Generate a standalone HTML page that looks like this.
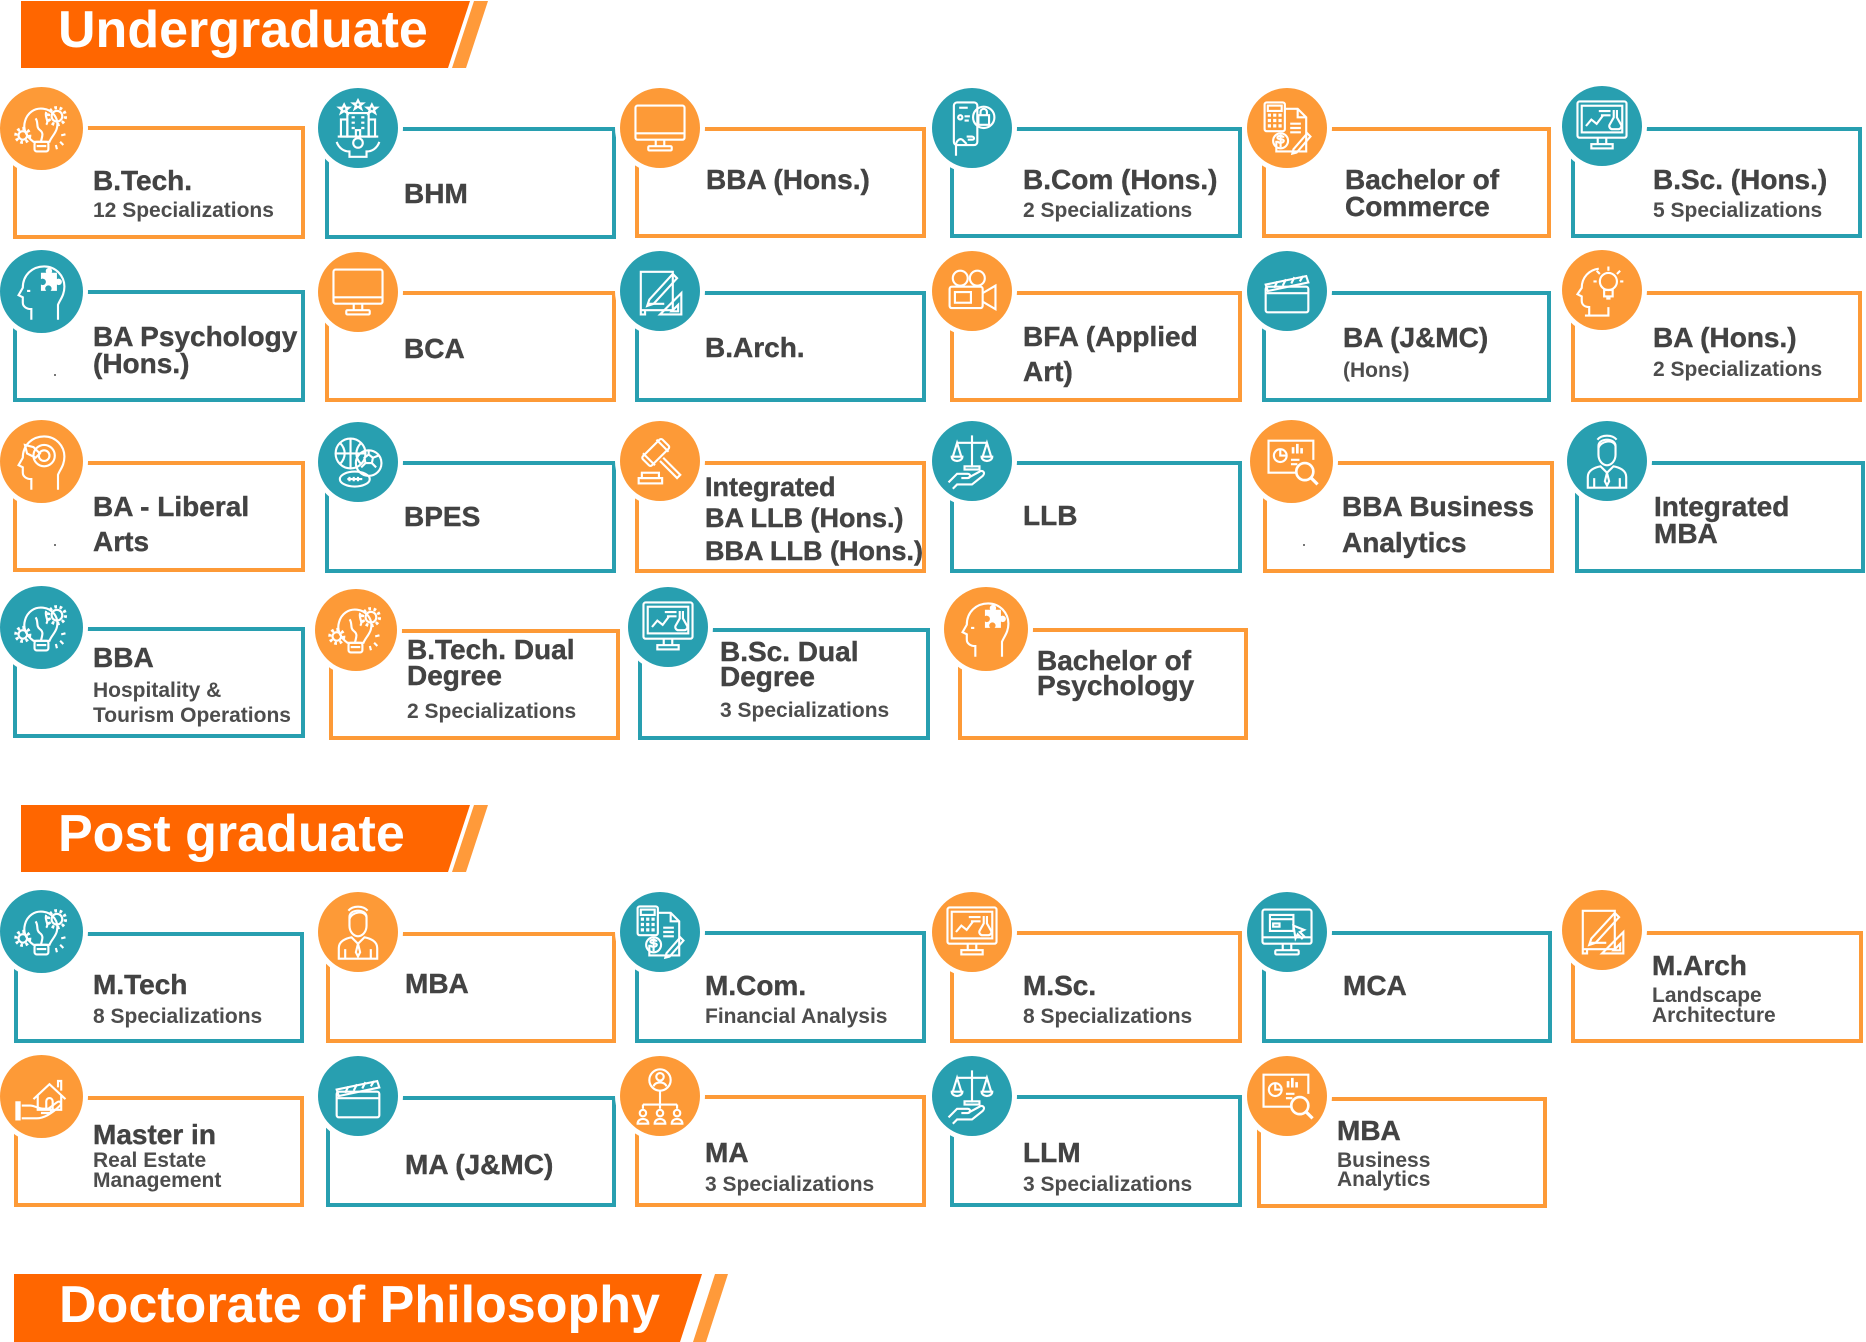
<!DOCTYPE html>
<html><head><meta charset="utf-8">
<style>
html,body{margin:0;padding:0;background:#fff}
body{width:1866px;height:1342px;position:relative;overflow:hidden;font-family:"Liberation Sans",Arial,sans-serif}
.b{position:absolute;box-sizing:border-box;border:4px solid}
.o{border-color:#FD9A37}
.c{border-color:#289FB0}
.ci{position:absolute;border-radius:50%;box-shadow:0 0 0 5px #fff;width:80px;height:80px}
.ci.L{width:83px;height:83px}
.co{background:#FD9A37}
.cc{background:#289FB0}
.ci svg{position:absolute;left:50%;top:50%;width:64px;height:64px;margin:-32px 0 0 -32px}
.t{position:absolute;white-space:nowrap;line-height:1;font-weight:bold;color:#434343;font-size:28px;-webkit-text-stroke:0.4px #434343}
.t27{font-size:27px}
.s{position:absolute;white-space:nowrap;line-height:1;font-weight:bold;color:#4d4d4d;font-size:21px}
.hd{position:absolute;white-space:nowrap;line-height:1;font-weight:bold;color:#fff;font-size:52px}
.dot{position:absolute;width:2px;height:2px;background:#777}
</style></head><body>
<svg width="0" height="0" style="position:absolute">
<defs>
<symbol id="mon" viewBox="0 0 60 60"><g fill="none" stroke="#fff" stroke-width="2"><rect x="7" y="9" width="46" height="32" rx="2"/><line x1="7" y1="35" x2="53" y2="35"/><path d="M26 41v6M34 41v6"/><rect x="19" y="47" width="22" height="4" rx="1"/></g></symbol>
<symbol id="bulb" viewBox="0 0 60 60"><g fill="none" stroke="#fff" stroke-width="2"><path d="M22 42c-7-5-10-12-8-19 2-8 9-13 17-12 9 1 15 9 13 18-1 5-5 8-7 13z"/><rect x="23" y="42" width="13" height="9" rx="2"/><line x1="25" y1="46" x2="34" y2="46"/><circle cx="44" cy="18" r="5"/><circle cx="44" cy="18" r="8" stroke-width="3" stroke-dasharray="2.5 2.5"/><circle cx="12" cy="36" r="4"/><circle cx="12" cy="36" r="6.5" stroke-width="3" stroke-dasharray="2.5 2.5"/><path d="M24 20c3 4 0 8 4 11s2 6 1 11M34 14c-2 5 3 8 0 12"/><path d="M48 36l4-1M47 42l3 3M43 45l1 4"/></g></symbol>
<symbol id="bld" viewBox="0 0 60 60"><g fill="none" stroke="#fff" stroke-width="2"><rect x="20" y="16" width="20" height="22"/><rect x="14" y="22" width="6" height="16"/><rect x="40" y="22" width="6" height="16"/><path d="M24 20h3M33 20h3M24 25h3M33 25h3M24 30h3M33 30h3"/><rect x="28" y="32" width="4" height="6"/><line x1="11" y1="38" x2="49" y2="38"/><path d="M17 8l1.5 3h3l-2.5 2 1 3-3-2-3 2 1-3-2.5-2h3zM30 4l1.5 3h3l-2.5 2 1 3-3-2-3 2 1-3-2.5-2h3zM43 8l1.5 3h3l-2.5 2 1 3-3-2-3 2 1-3-2.5-2h3z"/><circle cx="30" cy="44" r="4.5"/><path d="M10 43c2 6 7 9 12 9v5h16v-5c5 0 10-3 12-9"/></g></symbol>
<symbol id="phone" viewBox="0 0 60 60"><g fill="none" stroke="#fff" stroke-width="2"><rect x="13" y="6" width="22" height="40" rx="3"/><line x1="18" y1="11" x2="26" y2="11"/><circle cx="41" cy="20" r="10"/><path d="M36 18h10v9h-10zM38 18v-3a3 3 0 0 1 6 0v3"/><circle cx="19" cy="20" r="2"/><path d="M23 19h5M23 23h4"/><path d="M15 56v-10c0-3 3-7 6-5l4 4M25 38h5c2 0 3 3 0 3h-4"/></g></symbol>
<symbol id="calc" viewBox="0 0 60 60"><g fill="none" stroke="#fff" stroke-width="2"><rect x="9" y="6" width="19" height="27" rx="2"/><rect x="12" y="9" width="13" height="5"/><path d="M12 18h3M17 18h3M22 18h3M12 23h3M17 23h3M22 23h3M12 28h3M17 28h3M22 28h3" stroke-width="3"/><path d="M28 12h12l8 8v32h-28v-10"/><path d="M40 12v8h8"/><path d="M33 26h10M33 30h10M33 34h10"/><circle cx="24" cy="42" r="7"/><path d="M27 39c-1-2-6-2-6 0s6 1 6 3-5 3-6 0M24 36v12"/><path d="M36 50l13-15 3 3-13 15-4 1z"/></g></symbol>
<symbol id="sci" viewBox="0 0 60 60"><g fill="none" stroke="#fff" stroke-width="2"><rect x="7" y="7" width="46" height="34" rx="2"/><rect x="11" y="11" width="38" height="25"/><path d="M26 41v6M34 41v6"/><rect x="20" y="47" width="20" height="4"/><polyline points="15,30 20,24 25,28 31,20"/><path d="M27 16h11M29 20h9"/><path d="M41 15v7l-4 7a3 3 0 0 0 3 4h5a3 3 0 0 0 3-4l-4-7v-7"/></g></symbol>
<symbol id="headp" viewBox="0 0 60 60"><g fill="none" stroke="#fff" stroke-width="2"><path d="M20 56v-10c-4 0-8-2-8-6v-5l-4-2 4-7c0-12 9-20 20-20 11 0 19 9 19 19 0 8-4 12-6 17v14"/><path d="M16 29h3"/></g><path fill="#fff" d="M29 12h5a3 3 0 1 1 5 0h5v6a3 3 0 1 1 0 5v6h-6a3 3 0 1 0-4 0h-5v-6a3 3 0 1 0 0-5z"/></symbol>
<symbol id="bp" viewBox="0 0 60 60"><g fill="none" stroke="#fff" stroke-width="2"><path d="M12 12h30v36h-30zM12 12v40h4v-4"/><path d="M20 38l22-24 4 4-22 24-6 2z"/><path d="M18 42h16"/><path d="M30 52l20-20v20z"/><path d="M41 49l6-6v6z"/></g></symbol>
<symbol id="cam" viewBox="0 0 60 60"><g fill="none" stroke="#fff" stroke-width="2"><circle cx="19" cy="18" r="7"/><circle cx="35" cy="18" r="7"/><rect x="9" y="26" width="31" height="20" rx="2"/><rect x="14" y="31" width="15" height="10"/><path d="M40 32l12-7v22l-12-7"/></g></symbol>
<symbol id="clap" viewBox="0 0 60 60"><g fill="none" stroke="#fff" stroke-width="2"><rect x="10" y="26" width="40" height="24" rx="2"/><line x1="10" y1="32" x2="50" y2="32"/><path d="M10 24l38-8 2 6-38 8z"/><path d="M18 27l3-6M26 25l3-6M34 23l3-6M42 21l3-5"/></g></symbol>
<symbol id="headb" viewBox="0 0 60 60"><g fill="none" stroke="#fff" stroke-width="2"><path d="M18 54v-8c-4 0-7-2-7-6v-4l-4-2 4-6c0-10 7-17 16-18"/><path d="M14 54h22v-8"/><circle cx="36" cy="22" r="8"/><rect x="32" y="30" width="8" height="6"/><path d="M34 38h4M36 8v4M25 12l3 3M47 12l-3 3M22 22h3M47 22h3"/></g></symbol>
<symbol id="headt" viewBox="0 0 60 60"><g fill="none" stroke="#fff" stroke-width="2"><path d="M20 56v-10c-4 0-8-2-8-6v-5l-4-2 4-7c0-12 9-20 20-20 11 0 19 9 19 19 0 8-4 12-6 17v14"/><circle cx="32" cy="24" r="10"/><circle cx="32" cy="24" r="5"/><path d="M14 14l8 2 6 6-4 4-8-4z"/></g></symbol>
<symbol id="balls" viewBox="0 0 60 60"><g fill="none" stroke="#fff" stroke-width="2"><circle cx="23" cy="22" r="14"/><path d="M9 22h28M23 8v28M13 12c6 6 6 14 0 20M33 12c-6 6-6 14 0 20"/><circle cx="40" cy="31" r="12"/><path d="M36 26l4-3 4 3-1 5h-6zM40 23v-4M44 26l5-2M43 31l4 4M37 31l-4 4"/><ellipse cx="27" cy="46" rx="14" ry="7"/><path d="M20 46h14M22 44v4M26 44v4M30 44v4"/></g></symbol>
<symbol id="gav" viewBox="0 0 60 60"><g fill="none" stroke="#fff" stroke-width="2"><g transform="rotate(-45 26 22)"><rect x="13" y="16" width="26" height="12" rx="2"/><path d="M17 14v16M35 14v16"/></g><path d="M30 30l16 16 3-3-16-16"/><rect x="10" y="46" width="22" height="5"/><rect x="13" y="41" width="16" height="5"/></g></symbol>
<symbol id="scale" viewBox="0 0 60 60"><g fill="none" stroke="#fff" stroke-width="2"><path d="M30 6v30M16 13h28"/><path d="M12 26l4-13 4 13M40 26l4-13 4 13"/><path d="M11 26a5 4 0 0 0 10 0zM39 26a5 4 0 0 0 10 0z"/><rect x="23" y="35" width="14" height="3"/><path d="M8 50l8-8h10c3 0 3 4 0 4h-6M26 46l11-6c3-2 6 1 3 4l-10 8h-14l-4 4"/></g></symbol>
<symbol id="chart" viewBox="0 0 60 60"><g fill="none" stroke="#fff" stroke-width="2"><path d="M34 40h-26v-30h42v18"/><circle cx="19" cy="24" r="6"/><path d="M19 18v6h6"/><path d="M31 22v-6M35 22v-9M39 22v-5" stroke-width="2.5"/><path d="M29 28h8M29 32h6"/><circle cx="42" cy="39" r="8" stroke-width="2.5"/><path d="M48 45l6 6" stroke-width="3"/></g></symbol>
<symbol id="man" viewBox="0 0 60 60"><g fill="none" stroke="#fff" stroke-width="2"><path d="M22 16c0-8 16-8 16 0v8c0 6-4 10-8 10s-8-4-8-10z"/><path d="M22 18c2-7 14-9 16-2M21 10c4-5 14-5 18 0"/><path d="M12 55v-10c0-6 6-9 12-10l6 6 6-6c6 1 12 4 12 10v10z"/><path d="M30 41l-2 8 2 4 2-4z"/><path d="M18 46v9M42 46v9"/></g></symbol>
<symbol id="house" viewBox="0 0 60 60"><g fill="none" stroke="#fff" stroke-width="2"><path d="M22 32l15-14 15 14M26 28v14h22v-14"/><path d="M34 42v-8a3 3 0 0 1 6 0v8"/><path d="M45 21v-6h3v9"/></g><rect x="5" y="34" width="5" height="18" fill="#fff"/><g fill="none" stroke="#fff" stroke-width="2"><path d="M11 38h8c4 0 8 3 12 3h6c2 0 2 4 0 4h-8M11 50h14c6 0 14-4 22-12 2-2 0-5-3-3l-8 6"/></g></symbol>
<symbol id="ppl" viewBox="0 0 60 60"><g fill="none" stroke="#fff" stroke-width="2"><circle cx="30" cy="15" r="10"/><circle cx="30" cy="12" r="3.5"/><path d="M24 21c1-5 11-5 12 0"/><path d="M30 25v11M14 38h32M14 38v4M30 36v6M46 38v4"/><circle cx="14" cy="46" r="3"/><path d="M9 56c0-6 10-6 10 0z"/><circle cx="30" cy="46" r="3"/><path d="M25 56c0-6 10-6 10 0z"/><circle cx="46" cy="46" r="3"/><path d="M41 56c0-6 10-6 10 0z"/></g></symbol>
<symbol id="monc" viewBox="0 0 60 60"><g fill="none" stroke="#fff" stroke-width="2"><rect x="7" y="9" width="46" height="32" rx="2"/><line x1="7" y1="35" x2="53" y2="35"/><path d="M26 41v6M34 41v6"/><rect x="19" y="47" width="22" height="4" rx="1"/><rect x="14" y="14" width="22" height="15"/><line x1="14" y1="18" x2="36" y2="18"/><rect x="17" y="22" width="6" height="3"/><path d="M36 24l10 4-4 2 4 4-2 2-4-4-2 4z"/></g></symbol>
</defs></svg>

<!-- header bands -->
<svg style="position:absolute;left:0;top:0" width="1866" height="1342">
<polygon points="21,1 470,1 448,68 21,68" fill="#FF6600"/>
<polygon points="474,1 488,1 466,68 452,68" fill="#FF9A3A"/>
<polygon points="21,805 470,805 448,872 21,872" fill="#FF6600"/>
<polygon points="474,805 488,805 466,872 452,872" fill="#FF9A3A"/>
<polygon points="14,1274 702,1274 680,1342 14,1342" fill="#FF6600"/>
<polygon points="715,1274 728,1274 706,1342 693,1342" fill="#FF9A3A"/>
</svg>
<div class="hd" style="left:58px;top:4px">Undergraduate</div>
<div class="hd" style="left:58px;top:808px">Post graduate</div>
<div class="hd" style="left:59px;top:1279px">Doctorate of Philosophy</div>

<!-- UG row 1 -->
<div class="b o" style="left:13px;top:126px;width:292px;height:113px"></div>
<div class="b c" style="left:325px;top:127px;width:291px;height:112px"></div>
<div class="b o" style="left:635px;top:127px;width:291px;height:111px"></div>
<div class="b c" style="left:950px;top:127px;width:292px;height:111px"></div>
<div class="b o" style="left:1262px;top:127px;width:289px;height:111px"></div>
<div class="b c" style="left:1571px;top:127px;width:291px;height:111px"></div>
<div class="ci L co" style="left:0px;top:87px"><svg><use href="#bulb"/></svg></div>
<div class="ci cc" style="left:318px;top:88px"><svg><use href="#bld"/></svg></div>
<div class="ci co" style="left:620px;top:88px"><svg><use href="#mon"/></svg></div>
<div class="ci cc" style="left:932px;top:88px"><svg><use href="#phone"/></svg></div>
<div class="ci co" style="left:1247px;top:88px"><svg><use href="#calc"/></svg></div>
<div class="ci cc" style="left:1562px;top:86px"><svg><use href="#sci"/></svg></div>
<div class="t" style="left:93px;top:167px">B.Tech.</div>
<div class="s" style="left:93px;top:200px">12 Specializations</div>
<div class="t" style="left:404px;top:180px">BHM</div>
<div class="t" style="left:706px;top:166px">BBA (Hons.)</div>
<div class="t" style="left:1023px;top:166px">B.Com (Hons.)</div>
<div class="s" style="left:1023px;top:200px">2 Specializations</div>
<div class="t" style="left:1345px;top:166px">Bachelor of</div>
<div class="t" style="left:1345px;top:193px">Commerce</div>
<div class="t" style="left:1653px;top:166px">B.Sc. (Hons.)</div>
<div class="s" style="left:1653px;top:200px">5 Specializations</div>

<!-- UG row 2 -->
<div class="b c" style="left:13px;top:290px;width:292px;height:112px"></div>
<div class="b o" style="left:325px;top:291px;width:291px;height:111px"></div>
<div class="b c" style="left:635px;top:291px;width:291px;height:111px"></div>
<div class="b o" style="left:950px;top:291px;width:292px;height:111px"></div>
<div class="b c" style="left:1262px;top:291px;width:289px;height:111px"></div>
<div class="b o" style="left:1571px;top:291px;width:291px;height:111px"></div>
<div class="ci L cc" style="left:0px;top:250px"><svg><use href="#headp"/></svg></div>
<div class="ci co" style="left:318px;top:252px"><svg><use href="#mon"/></svg></div>
<div class="ci cc" style="left:620px;top:251px"><svg><use href="#bp"/></svg></div>
<div class="ci co" style="left:932px;top:251px"><svg><use href="#cam"/></svg></div>
<div class="ci cc" style="left:1247px;top:251px"><svg><use href="#clap"/></svg></div>
<div class="ci co" style="left:1562px;top:250px"><svg><use href="#headb"/></svg></div>
<div class="t" style="left:93px;top:323px">BA Psychology</div>
<div class="t" style="left:93px;top:350px">(Hons.)</div>
<div class="dot" style="left:54px;top:374px"></div>
<div class="t" style="left:404px;top:335px">BCA</div>
<div class="t" style="left:705px;top:334px">B.Arch.</div>
<div class="t" style="left:1023px;top:323px">BFA (Applied</div>
<div class="t" style="left:1023px;top:358px">Art)</div>
<div class="t" style="left:1343px;top:324px">BA (J&amp;MC)</div>
<div class="s" style="left:1343px;top:360px">(Hons)</div>
<div class="t" style="left:1653px;top:324px">BA (Hons.)</div>
<div class="s" style="left:1653px;top:359px">2 Specializations</div>

<!-- UG row 3 -->
<div class="b o" style="left:13px;top:461px;width:292px;height:111px"></div>
<div class="b c" style="left:325px;top:461px;width:291px;height:112px"></div>
<div class="b o" style="left:635px;top:461px;width:291px;height:112px"></div>
<div class="b c" style="left:950px;top:461px;width:292px;height:112px"></div>
<div class="b o" style="left:1263px;top:461px;width:291px;height:112px"></div>
<div class="b c" style="left:1575px;top:461px;width:290px;height:112px"></div>
<div class="ci L co" style="left:0px;top:420px"><svg><use href="#headt"/></svg></div>
<div class="ci cc" style="left:318px;top:422px"><svg><use href="#balls"/></svg></div>
<div class="ci co" style="left:620px;top:421px"><svg><use href="#gav"/></svg></div>
<div class="ci cc" style="left:932px;top:421px"><svg><use href="#scale"/></svg></div>
<div class="ci L co" style="left:1250px;top:420px"><svg><use href="#chart"/></svg></div>
<div class="ci cc" style="left:1567px;top:421px"><svg><use href="#man"/></svg></div>
<div class="t" style="left:93px;top:493px">BA - Liberal</div>
<div class="t" style="left:93px;top:528px">Arts</div>
<div class="dot" style="left:54px;top:544px"></div>
<div class="t" style="left:404px;top:503px">BPES</div>
<div class="t t27" style="left:705px;top:474px">Integrated</div>
<div class="t t27" style="left:705px;top:505px">BA LLB (Hons.)</div>
<div class="t t27" style="left:705px;top:538px">BBA LLB (Hons.)</div>
<div class="t" style="left:1023px;top:502px">LLB</div>
<div class="t" style="left:1342px;top:493px">BBA Business</div>
<div class="t" style="left:1342px;top:529px">Analytics</div>
<div class="dot" style="left:1303px;top:544px"></div>
<div class="t" style="left:1654px;top:493px">Integrated</div>
<div class="t" style="left:1654px;top:520px">MBA</div>

<!-- UG row 4 -->
<div class="b c" style="left:13px;top:627px;width:292px;height:111px"></div>
<div class="b o" style="left:329px;top:629px;width:291px;height:111px"></div>
<div class="b c" style="left:638px;top:628px;width:292px;height:112px"></div>
<div class="b o" style="left:958px;top:628px;width:290px;height:112px"></div>
<div class="ci L cc" style="left:0px;top:586px"><svg><use href="#bulb"/></svg></div>
<div class="ci co" style="left:315px;top:589px;width:82px;height:82px"><svg><use href="#bulb"/></svg></div>
<div class="ci cc" style="left:628px;top:587px"><svg><use href="#sci"/></svg></div>
<div class="ci co" style="left:944px;top:587px;width:84px;height:84px"><svg><use href="#headp"/></svg></div>
<div class="t" style="left:93px;top:644px">BBA</div>
<div class="s" style="left:93px;top:680px">Hospitality &amp;</div>
<div class="s" style="left:93px;top:705px">Tourism Operations</div>
<div class="t" style="left:407px;top:636px">B.Tech. Dual</div>
<div class="t" style="left:407px;top:662px">Degree</div>
<div class="s" style="left:407px;top:701px">2 Specializations</div>
<div class="t" style="left:720px;top:638px">B.Sc. Dual</div>
<div class="t" style="left:720px;top:663px">Degree</div>
<div class="s" style="left:720px;top:700px">3 Specializations</div>
<div class="t" style="left:1037px;top:647px">Bachelor of</div>
<div class="t" style="left:1037px;top:672px">Psychology</div>

<!-- PG row 1 -->
<div class="b c" style="left:14px;top:932px;width:290px;height:111px"></div>
<div class="b o" style="left:326px;top:932px;width:290px;height:111px"></div>
<div class="b c" style="left:635px;top:931px;width:291px;height:112px"></div>
<div class="b o" style="left:950px;top:931px;width:292px;height:112px"></div>
<div class="b c" style="left:1262px;top:931px;width:290px;height:112px"></div>
<div class="b o" style="left:1571px;top:931px;width:292px;height:112px"></div>
<div class="ci L cc" style="left:0px;top:890px"><svg><use href="#bulb"/></svg></div>
<div class="ci co" style="left:318px;top:892px"><svg><use href="#man"/></svg></div>
<div class="ci cc" style="left:620px;top:892px"><svg><use href="#calc"/></svg></div>
<div class="ci co" style="left:932px;top:892px"><svg><use href="#sci"/></svg></div>
<div class="ci cc" style="left:1247px;top:892px"><svg><use href="#monc"/></svg></div>
<div class="ci co" style="left:1562px;top:890px"><svg><use href="#bp"/></svg></div>
<div class="t" style="left:93px;top:971px">M.Tech</div>
<div class="s" style="left:93px;top:1006px">8 Specializations</div>
<div class="t" style="left:405px;top:970px">MBA</div>
<div class="t" style="left:705px;top:972px">M.Com.</div>
<div class="s" style="left:705px;top:1006px">Financial Analysis</div>
<div class="t" style="left:1023px;top:972px">M.Sc.</div>
<div class="s" style="left:1023px;top:1006px">8 Specializations</div>
<div class="t" style="left:1343px;top:972px">MCA</div>
<div class="t" style="left:1652px;top:952px">M.Arch</div>
<div class="s" style="left:1652px;top:985px">Landscape</div>
<div class="s" style="left:1652px;top:1005px">Architecture</div>

<!-- PG row 2 -->
<div class="b o" style="left:14px;top:1096px;width:290px;height:111px"></div>
<div class="b c" style="left:326px;top:1096px;width:290px;height:111px"></div>
<div class="b o" style="left:635px;top:1095px;width:291px;height:112px"></div>
<div class="b c" style="left:950px;top:1095px;width:292px;height:112px"></div>
<div class="b o" style="left:1257px;top:1097px;width:290px;height:111px"></div>
<div class="ci L co" style="left:0px;top:1055px"><svg><use href="#house"/></svg></div>
<div class="ci cc" style="left:318px;top:1056px"><svg><use href="#clap"/></svg></div>
<div class="ci co" style="left:620px;top:1056px"><svg><use href="#ppl"/></svg></div>
<div class="ci cc" style="left:932px;top:1056px"><svg><use href="#scale"/></svg></div>
<div class="ci co" style="left:1247px;top:1056px"><svg><use href="#chart"/></svg></div>
<div class="t" style="left:93px;top:1121px">Master in</div>
<div class="s" style="left:93px;top:1150px">Real Estate</div>
<div class="s" style="left:93px;top:1170px">Management</div>
<div class="t" style="left:405px;top:1151px">MA (J&amp;MC)</div>
<div class="t" style="left:705px;top:1139px">MA</div>
<div class="s" style="left:705px;top:1174px">3 Specializations</div>
<div class="t" style="left:1023px;top:1139px">LLM</div>
<div class="s" style="left:1023px;top:1174px">3 Specializations</div>
<div class="t" style="left:1337px;top:1117px">MBA</div>
<div class="s" style="left:1337px;top:1150px">Business</div>
<div class="s" style="left:1337px;top:1169px">Analytics</div>
</body></html>
